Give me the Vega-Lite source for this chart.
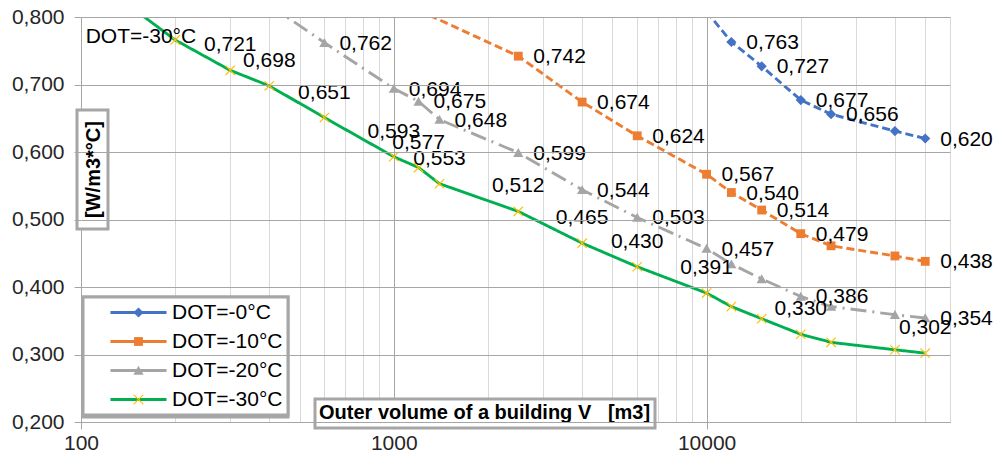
{
  "$schema": "https://vega.github.io/schema/vega-lite/v6.json",
  "width": 869,
  "height": 405,
  "autosize": {"type": "none"},
  "padding": {"left": 81, "top": 17, "right": 47, "bottom": 38},
  "background": "#ffffff",
  "config": {
    "view": {"stroke": null},
    "font": "Liberation Sans",
    "legend": {"strokeWidth": 3},
    "axis": {"labelFont": "Liberation Sans", "labelFontSize": 21, "labelColor": "#262626", "domainColor": "#a6a6a6", "tickColor": "#a6a6a6", "domainWidth": 1}
  },
  "data": {
    "values": [
      {"series": "DOT=-0°C", "volume": 10000, "value": 0.808},
      {"series": "DOT=-0°C", "volume": 12000, "value": 0.763, "label": "0,763"},
      {"series": "DOT=-0°C", "volume": 15000, "value": 0.727, "label": "0,727"},
      {"series": "DOT=-0°C", "volume": 20000, "value": 0.677, "label": "0,677"},
      {"series": "DOT=-0°C", "volume": 25000, "value": 0.656, "label": "0,656"},
      {"series": "DOT=-0°C", "volume": 40000, "value": 0.631},
      {"series": "DOT=-0°C", "volume": 50000, "value": 0.620, "label": "0,620"},
      {"series": "DOT=-10°C", "volume": 1200, "value": 0.810},
      {"series": "DOT=-10°C", "volume": 2500, "value": 0.742, "label": "0,742"},
      {"series": "DOT=-10°C", "volume": 4000, "value": 0.674, "label": "0,674"},
      {"series": "DOT=-10°C", "volume": 6000, "value": 0.624, "label": "0,624"},
      {"series": "DOT=-10°C", "volume": 10000, "value": 0.567, "label": "0,567"},
      {"series": "DOT=-10°C", "volume": 12000, "value": 0.540, "label": "0,540"},
      {"series": "DOT=-10°C", "volume": 15000, "value": 0.514, "label": "0,514"},
      {"series": "DOT=-10°C", "volume": 20000, "value": 0.479, "label": "0,479"},
      {"series": "DOT=-10°C", "volume": 25000, "value": 0.461},
      {"series": "DOT=-10°C", "volume": 40000, "value": 0.446},
      {"series": "DOT=-10°C", "volume": 50000, "value": 0.438, "label": "0,438"},
      {"series": "DOT=-20°C", "volume": 400, "value": 0.818},
      {"series": "DOT=-20°C", "volume": 600, "value": 0.762, "label": "0,762"},
      {"series": "DOT=-20°C", "volume": 1000, "value": 0.694, "label": "0,694"},
      {"series": "DOT=-20°C", "volume": 1200, "value": 0.675, "label": "0,675"},
      {"series": "DOT=-20°C", "volume": 1400, "value": 0.648, "label": "0,648"},
      {"series": "DOT=-20°C", "volume": 2500, "value": 0.599, "label": "0,599"},
      {"series": "DOT=-20°C", "volume": 4000, "value": 0.544, "label": "0,544"},
      {"series": "DOT=-20°C", "volume": 6000, "value": 0.503, "label": "0,503"},
      {"series": "DOT=-20°C", "volume": 10000, "value": 0.457, "label": "0,457"},
      {"series": "DOT=-20°C", "volume": 12000, "value": 0.434},
      {"series": "DOT=-20°C", "volume": 15000, "value": 0.412},
      {"series": "DOT=-20°C", "volume": 20000, "value": 0.386, "label": "0,386"},
      {"series": "DOT=-20°C", "volume": 25000, "value": 0.371},
      {"series": "DOT=-20°C", "volume": 40000, "value": 0.359},
      {"series": "DOT=-20°C", "volume": 50000, "value": 0.354, "label": "0,354"},
      {"series": "DOT=-30°C", "volume": 100, "value": 0.870},
      {"series": "DOT=-30°C", "volume": 200, "value": 0.766, "label": "DOT=-30°C"},
      {"series": "DOT=-30°C", "volume": 300, "value": 0.721, "label": "0,721"},
      {"series": "DOT=-30°C", "volume": 400, "value": 0.698, "label": "0,698"},
      {"series": "DOT=-30°C", "volume": 600, "value": 0.651, "label": "0,651"},
      {"series": "DOT=-30°C", "volume": 1000, "value": 0.593, "label": "0,593"},
      {"series": "DOT=-30°C", "volume": 1200, "value": 0.577, "label": "0,577"},
      {"series": "DOT=-30°C", "volume": 1400, "value": 0.553, "label": "0,553"},
      {"series": "DOT=-30°C", "volume": 2500, "value": 0.512, "label": "0,512"},
      {"series": "DOT=-30°C", "volume": 4000, "value": 0.465, "label": "0,465"},
      {"series": "DOT=-30°C", "volume": 6000, "value": 0.430, "label": "0,430"},
      {"series": "DOT=-30°C", "volume": 10000, "value": 0.391, "label": "0,391"},
      {"series": "DOT=-30°C", "volume": 12000, "value": 0.371},
      {"series": "DOT=-30°C", "volume": 15000, "value": 0.353},
      {"series": "DOT=-30°C", "volume": 20000, "value": 0.330, "label": "0,330"},
      {"series": "DOT=-30°C", "volume": 25000, "value": 0.318},
      {"series": "DOT=-30°C", "volume": 40000, "value": 0.307},
      {"series": "DOT=-30°C", "volume": 50000, "value": 0.302, "label": "0,302"}
    ]
  },
  "encoding": {
    "x": {
      "field": "volume", "type": "quantitative",
      "scale": {"type": "log", "domain": [100, 60000], "nice": false},
      "axis": {
        "title": null,
        "values": [100, 200, 300, 400, 500, 600, 700, 800, 900, 1000, 2000, 3000, 4000, 5000, 6000, 7000, 8000, 9000, 10000, 20000, 30000, 40000, 50000, 60000],
        "grid": true,
        "gridColor": {"condition": {"test": "datum.value == 100 || datum.value == 1000 || datum.value == 10000", "value": "#a6a6a6"}, "value": "#d9d9d9"},
        "gridWidth": 1,
        "tickSize": 7,
        "tickOpacity": {"condition": {"test": "datum.value == 100 || datum.value == 1000 || datum.value == 10000", "value": 1}, "value": 0},
        "labelExpr": "datum.value == 100 || datum.value == 1000 || datum.value == 10000 ? format(datum.value, 'd') : ''",
        "labelPadding": 3,
        "labelOverlap": false,
        "labelFlush": false
      }
    },
    "y": {
      "field": "value", "type": "quantitative",
      "scale": {"domain": [0.2, 0.8], "nice": false, "zero": false},
      "axis": {
        "title": "[W/m3*°C]",
        "titleFont": "Liberation Sans",
        "titleFontSize": 20,
        "titleFontWeight": "bold",
        "titleColor": "#000000",
        "titleAngle": 270,
        "titleAlign": "center",
        "titleBaseline": "middle",
        "titleX": 12,
        "titleY": 152,
        "zindex": 2,
        "domain": false,
        "values": [0.2, 0.3, 0.4, 0.5, 0.6, 0.7, 0.8],
        "grid": true,
        "gridColor": "#a6a6a6",
        "tickSize": 7,
        "labelExpr": "replace(format(datum.value, '.3f'), '.', ',')",
        "labelPadding": 10,
        "labelOverlap": false,
        "labelFlush": false
      }
    }
  },
  "layer": [
    {
      "mark": {"type": "line", "strokeWidth": 2.9, "clip": true},
      "encoding": {
        "color": {
          "field": "series", "type": "nominal",
          "scale": {"domain": ["DOT=-0°C", "DOT=-10°C", "DOT=-20°C", "DOT=-30°C"], "range": ["#4472C4", "#ED7D31", "#A5A5A5", "#00B050"]},
          "legend": {"orient": "none", "legendX": 2, "legendY": 280, "title": null, "symbolType": "M-3.3,0H3.3", "symbolSize": 289, "symbolStrokeWidth": 2.8, "symbolOffset": 40, "labelOffset": 23, "labelFont": "Liberation Sans", "labelFontSize": 21, "labelColor": "#000000", "labelExpr": "datum.label + '\u00a0\u00a0\u00a0\u00a0'", "padding": 5, "rowPadding": 7, "strokeColor": "#a6a6a6", "fillColor": "#ffffff", "zindex": 1}
        },
        "strokeDash": {
          "field": "series", "type": "nominal",
          "scale": {"domain": ["DOT=-0°C", "DOT=-10°C", "DOT=-20°C", "DOT=-30°C"], "range": [[8, 4], [8, 4], [16, 6, 2, 6], [1, 0]]},
          "legend": {"orient": "none", "legendX": 2, "legendY": 280, "title": null, "symbolType": "M-3.3,0H3.3", "symbolSize": 289, "symbolStrokeWidth": 2.8, "symbolOffset": 40, "labelOffset": 23, "labelFont": "Liberation Sans", "labelFontSize": 21, "labelColor": "#000000", "labelExpr": "datum.label + '\u00a0\u00a0\u00a0\u00a0'", "padding": 5, "rowPadding": 7, "strokeColor": "#a6a6a6", "fillColor": "#ffffff", "zindex": 1}
        }
      }
    },
    {
      "mark": {"type": "point", "filled": true, "opacity": 1, "size": 289, "strokeWidth": 0, "clip": true},
      "encoding": {
        "color": {
          "field": "series", "type": "nominal",
          "scale": {"domain": ["DOT=-0°C", "DOT=-10°C", "DOT=-20°C", "DOT=-30°C"], "range": ["#4472C4", "#ED7D31", "#A5A5A5", "#FFC000"]},
          "legend": {"orient": "none", "legendX": 2, "legendY": 280, "title": null, "symbolSize": 289, "symbolStrokeWidth": 0, "symbolOpacity": 1, "symbolOffset": 40, "labelOffset": 23, "labelFont": "Liberation Sans", "labelFontSize": 21, "labelOpacity": 0, "labelExpr": "datum.label + '\u00a0\u00a0\u00a0\u00a0'", "padding": 5, "rowPadding": 7, "zindex": 2,
            "encode": {"symbols": {"update": {"shape": {"scale": "shape", "field": "value"}}}}}
        },
        "shape": {
          "field": "series", "type": "nominal",
          "scale": {"domain": ["DOT=-0°C", "DOT=-10°C", "DOT=-20°C", "DOT=-30°C"], "range": ["M0,-0.6L0.6,0L0,0.6L-0.6,0Z", "M-0.52,-0.52H0.52V0.52H-0.52Z", "M0,-0.55L0.6,0.5H-0.6Z", "M-0.6,-0.5L-0.5,-0.6L0.6,0.5L0.5,0.6Z M0.5,-0.6L0.6,-0.5L-0.5,0.6L-0.6,0.5Z"]},
          "legend": null
        }
      }
    },
    {
      "transform": [{"filter": "isValid(datum.label) && datum.series !== 'DOT=-30°C'"}],
      "mark": {"type": "text", "align": "left", "baseline": "middle", "dx": 15, "dy": 1, "font": "Liberation Sans", "fontSize": 21, "color": "#000000"},
      "encoding": {
        "text": {"field": "label", "type": "nominal"},
        "opacity": {
          "field": "series", "type": "ordinal",
          "scale": {"domain": ["DOT=-0°C", "DOT=-10°C", "DOT=-20°C"], "range": [1, 1]},
          "legend": {"orient": "none", "legendX": -4, "legendY": 93, "title": null, "values": ["DOT=-0°C", "DOT=-10°C", "DOT=-20°C"], "symbolSize": 0, "symbolOpacity": 0, "symbolStrokeWidth": 0, "labelExpr": "''", "labelFontSize": 21, "labelOffset": 0, "rowPadding": 22, "padding": 5, "strokeColor": "#a6a6a6", "fillColor": "#ffffff", "zindex": 1}
        }
      }
    },
    {
      "transform": [{"filter": "isValid(datum.label) && datum.series === 'DOT=-30°C' && datum.label !== 'DOT=-30°C'"}],
      "mark": {"type": "text", "align": "center", "baseline": "middle", "dy": -25, "font": "Liberation Sans", "fontSize": 21, "color": "#000000"},
      "encoding": {
        "text": {"field": "label", "type": "nominal"},
        "opacity": {
          "field": "series", "type": "ordinal",
          "scale": {"domain": ["DOT=-30°C"], "range": [1, 1]},
          "legend": {"orient": "none", "legendX": 234, "legendY": 382, "title": "Outer volume of a building V\u00a0\u00a0\u00a0[m3]", "titleOrient": "top", "titleFont": "Liberation Sans", "titleFontSize": 20, "titleFontWeight": "bold", "titleColor": "#000000", "titlePadding": 0, "titleLimit": 600, "values": ["DOT=-30°C"], "symbolSize": 0, "symbolOpacity": 0, "symbolStrokeWidth": 0, "labelExpr": "''", "labelFontSize": 1, "labelOffset": 0, "padding": 4, "strokeColor": "#a6a6a6", "fillColor": "#ffffff", "zindex": 1}
        }
      }
    },
    {
      "transform": [{"filter": "datum.label === 'DOT=-30°C'"}],
      "mark": {"type": "text", "align": "right", "baseline": "middle", "dx": 21, "dy": -3, "font": "Liberation Sans", "fontSize": 21, "color": "#000000"},
      "encoding": {
        "text": {"field": "label", "type": "nominal"}
      }
    }
  ],
  "resolve": {"scale": {"color": "independent", "opacity": "independent"}}
}
